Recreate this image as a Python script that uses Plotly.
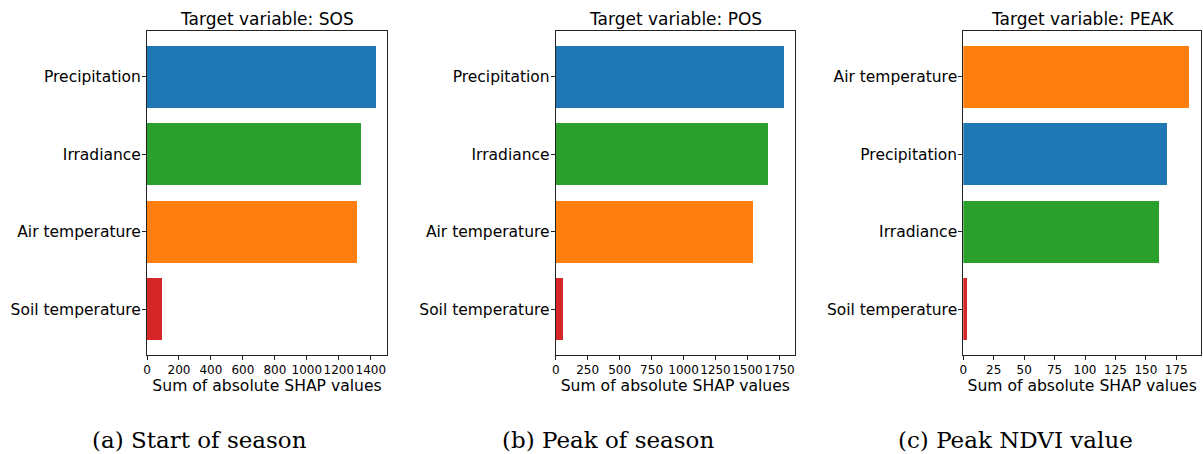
import plotly.graph_objects as go

# Feature importance (sum of absolute SHAP values) for each target variable
sos_features = ["Precipitation", "Irradiance", "Air temperature", "Soil temperature"]
sos_values = [1430, 1339, 1314, 95]

pos_features = ["Precipitation", "Irradiance", "Air temperature", "Soil temperature"]
pos_values = [1783, 1659, 1541, 57]

peak_features = ["Air temperature", "Precipitation", "Irradiance", "Soil temperature"]
peak_values = [186, 168, 161, 3]

feature_colors = {
    "Precipitation": "#1f77b4",
    "Irradiance": "#2ca02c",
    "Air temperature": "#ff7f0e",
    "Soil temperature": "#d62728",
}

titles = ["Target variable: SOS", "Target variable: POS", "Target variable: PEAK"]
captions = ["(a) Start of season", "(b) Peak of season", "(c) Peak NDVI value"]
x_ticks = [
    [0, 200, 400, 600, 800, 1000, 1200, 1400],
    [0, 250, 500, 750, 1000, 1250, 1500, 1750],
    [0, 25, 50, 75, 100, 125, 150, 175],
]

panels = [
    (sos_features, sos_values),
    (pos_features, pos_values),
    (peak_features, peak_values),
]

W, H = 1203, 454
x_domains = [(147 / W, 387 / W), (555.7 / W, 795 / W), (963.3 / W, 1201 / W)]
y_domain = (1 - 355 / H, 1 - 31 / H)

fig = go.Figure()
annotations = []
sans = "DejaVu Sans"
ink = "#000"

for i, ((feats, vals), dom) in enumerate(zip(panels, x_domains)):
    suffix = "" if i == 0 else str(i + 1)
    positions = list(range(len(feats)))
    fig.add_trace(go.Bar(
        x=vals,
        y=positions,
        orientation="h",
        width=0.8,
        marker=dict(color=[feature_colors[f] for f in feats], line=dict(width=0)),
        xaxis="x" + suffix,
        yaxis="y" + suffix,
        showlegend=False,
    ))
    vmax = max(vals)
    axis_common = dict(
        showline=True, mirror=True, linecolor="#222", linewidth=1,
        showgrid=False, zeroline=False, ticks="outside", ticklen=4,
        tickcolor="#222", automargin=False,
    )
    fig.layout["xaxis" + suffix] = dict(
        domain=list(dom), anchor="y" + suffix,
        range=[0, vmax * 1.05],
        tickmode="array", tickvals=x_ticks[i], ticktext=[str(t) for t in x_ticks[i]],
        tickangle=0, tickfont=dict(family=sans, size=12, color=ink),
        title=dict(text="Sum of absolute SHAP values", standoff=2,
                   font=dict(family=sans, size=15.6, color=ink)),
        **axis_common,
    )
    fig.layout["yaxis" + suffix] = dict(
        domain=list(y_domain), anchor="x" + suffix,
        range=[3.59, -0.59],
        tickmode="array", tickvals=positions, ticktext=feats,
        tickfont=dict(family=sans, size=15.5, color=ink),
        ticklabelstandoff=-2,
        **axis_common,
    )
    cx = (dom[0] + dom[1]) / 2
    annotations.append(dict(
        text=titles[i], x=cx, y=y_domain[1], xref="paper", yref="paper",
        xanchor="center", yanchor="bottom", yshift=0, showarrow=False,
        font=dict(family=sans, size=17, color=ink),
    ))
    annotations.append(dict(
        text=captions[i], x=[199 / W, 608 / W, 1016 / W][i], y=1 - 440 / H,
        xref="paper", yref="paper", xanchor="center", yanchor="middle",
        showarrow=False,
        font=dict(family="DejaVu Serif", size=23, color=ink),
    ))

fig.update_layout(
    width=W, height=H,
    margin=dict(l=0, r=0, t=0, b=0),
    paper_bgcolor="white", plot_bgcolor="white",
    annotations=annotations,
    bargap=0,
)

fig.write_html("out.html")
